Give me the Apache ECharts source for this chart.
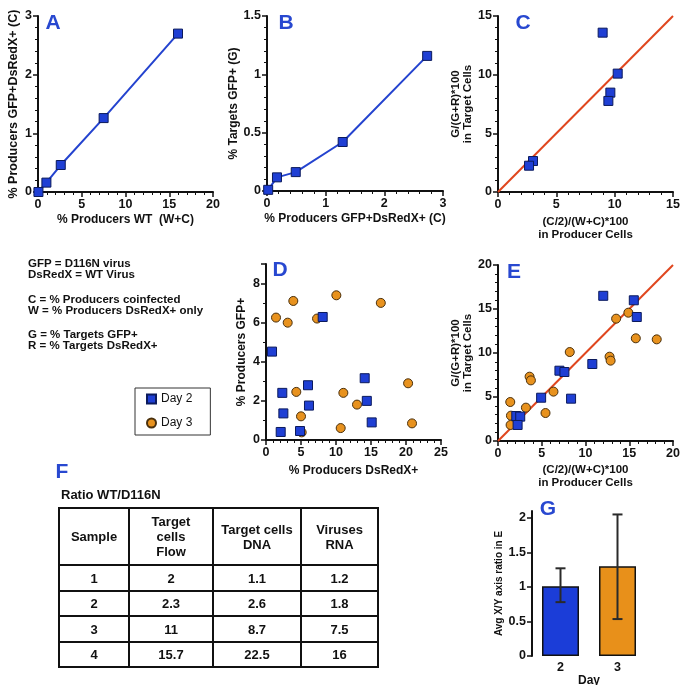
<!DOCTYPE html>
<html lang="en">
<head>
<meta charset="UTF-8">
<title>Coinfection of D116N and WT virus</title>
<style>
  html, body { margin: 0; padding: 0; background: #fff; }
  #main { width: 685px; height: 685px; }
</style>
<script src="https://cdn.jsdelivr.net/npm/echarts@6.0.0/dist/echarts.min.js"></script>
</head>
<body>
<div id="main"></div>
<script>
// ---- data ----
// A: % producers WT (W+C) vs % producers GFP+DsRedX+ (C)
var aX = [0.05, 0.96, 2.6, 7.5, 16.0];
var aY = [0.0, 0.16, 0.46, 1.26, 2.70];
// B: % producers GFP+DsRedX+ (C) vs % targets GFP+ (G)
var bX = [0.02, 0.17, 0.49, 1.29, 2.73];
var bY = [0.01, 0.117, 0.162, 0.42, 1.158];
// C: producer ratio vs target ratio
var cX = [8.97, 10.26, 9.63, 9.46, 3.0, 2.66];
var cY = [13.58, 10.09, 8.47, 7.76, 2.64, 2.24];
// D: % producers DsRedX+ vs % producers GFP+
var dDay2X = [0.86, 8.1, 2.33, 6.0, 6.14, 2.48, 2.10, 4.86, 14.1, 14.4, 15.1];
var dDay2Y = [4.52, 6.29, 2.41, 2.80, 1.76, 1.36, 0.41, 0.46, 3.16, 2.0, 0.90];
var dDay3X = [1.43, 3.1, 3.9, 7.29, 10.05, 16.4, 4.33, 5.0, 5.1, 11.05, 13.0, 10.67, 20.3, 20.86];
var dDay3Y = [6.26, 6.0, 7.11, 6.21, 7.40, 7.01, 2.46, 1.21, 0.39, 2.41, 1.81, 0.61, 2.90, 0.85];
// E: producer ratio vs target ratio, both days
var eDay2X = [12.03, 15.52, 15.86, 10.78, 7.02, 7.59, 4.93, 8.35, 2.09, 2.54, 2.24];
var eDay2Y = [16.5, 15.99, 14.09, 8.75, 7.99, 7.84, 4.92, 4.81, 2.84, 2.77, 1.82];
var eDay3X = [1.40, 1.48, 1.44, 3.19, 3.61, 3.76, 5.43, 6.34, 8.2, 12.75, 12.87, 13.5, 14.9, 15.75, 18.14];
var eDay3Y = [4.43, 2.88, 1.82, 3.79, 7.31, 6.89, 3.18, 5.61, 10.11, 9.58, 9.13, 13.9, 14.58, 11.67, 11.55];
// identity lines in C and E
var cDiag = [0, 15];
var eDiag = [0, 20];
// G: average X/Y ratio per day
var gDays = ['2', '3'];
var gMeans = [1.01, 1.30];
var gLow = [0.78, 0.535];
var gHigh = [1.27, 2.05];
// F: table
var tableHead = ['Sample', 'Target\ncells\nFlow', 'Target cells\nDNA', 'Viruses\nRNA'];
var tableRows = [
  ['1', '2', '1.1', '1.2'],
  ['2', '2.3', '2.6', '1.8'],
  ['3', '11', '8.7', '7.5'],
  ['4', '15.7', '22.5', '16']
];
var notes = [
  'GFP = D116N virus', 'DsRedX = WT Virus', '',
  'C = % Producers coinfected', 'W = % Producers DsRedX+ only', '',
  'G = % Targets GFP+', 'R = % Targets DsRedX+'
];

var FONT = '"Liberation Sans", Arial, sans-serif';
var INK = '#111';
var BLUE = '#1f3fd4';
var ORANGE = '#e8921e';
var LETTER = '#2848d0';

function zip(xs, ys) {
  return xs.map(function (x, i) { return [x, ys[i]]; });
}

function valAxis(grid, min, max, interval, minor, name, gap, nameSize, hideMax) {
  return {
    type: 'value', gridIndex: grid, min: min, max: max, interval: interval,
    name: name, nameLocation: 'middle', nameGap: gap,
    nameTextStyle: { fontFamily: FONT, fontWeight: 'bold', fontSize: nameSize, color: INK, lineHeight: nameSize + 1 },
    axisLine: { show: true, onZero: false, lineStyle: { color: INK, width: 2 } },
    axisTick: { show: true, length: 5, lineStyle: { color: INK, width: 1.5 } },
    minorTick: { show: minor > 1, splitNumber: minor, length: 3, lineStyle: { color: INK, width: 1 } },
    axisLabel: { fontFamily: FONT, fontWeight: 'bold', fontSize: 12.5, color: INK, margin: 6, showMaxLabel: !hideMax },
    splitLine: { show: false },
    minorSplitLine: { show: false }
  };
}

var squareStyle = { color: BLUE, borderColor: '#0b1a5c', borderWidth: 1, opacity: 1 };
var circleStyle = { color: ORANGE, borderColor: '#4a300c', borderWidth: 1, opacity: 1 };

function scatter(name, idx, xs, ys, isSquare) {
  return {
    name: name, type: 'scatter', xAxisIndex: idx, yAxisIndex: idx,
    symbol: isSquare ? 'rect' : 'circle', symbolSize: isSquare ? 9 : 9,
    itemStyle: isSquare ? squareStyle : circleStyle,
    data: zip(xs, ys), z: 3
  };
}

function diag(idx, ends) {
  return {
    type: 'line', xAxisIndex: idx, yAxisIndex: idx, symbol: 'none',
    lineStyle: { color: '#e0461e', width: 2 }, data: zip(ends, ends), z: 1
  };
}

function connected(idx, xs, ys) {
  return {
    type: 'line', xAxisIndex: idx, yAxisIndex: idx,
    symbol: 'rect', symbolSize: 9, showSymbol: true,
    lineStyle: { color: '#2443cf', width: 2 },
    itemStyle: squareStyle, data: zip(xs, ys), z: 3
  };
}

// ---- graphic: panel letters, notes, table ----
var graphics = [];
[['A', 53, 23], ['B', 286, 23], ['C', 523, 23], ['D', 280, 270],
 ['E', 514, 272], ['F', 62, 472], ['G', 548, 509]].forEach(function (l) {
  graphics.push({
    type: 'text', x: l[1], y: l[2],
    style: { text: l[0], font: 'bold 21px ' + FONT, fill: LETTER, align: 'center', verticalAlign: 'middle' }
  });
});

var noteY = [264, 275, 0, 300, 311, 0, 335, 346];
notes.forEach(function (t, i) {
  if (!t) return;
  graphics.push({
    type: 'text', x: 28, y: noteY[i],
    style: { text: t, font: 'bold 11.5px ' + FONT, fill: INK, align: 'left', verticalAlign: 'middle' }
  });
});

graphics.push({
  type: 'text', x: 61, y: 495,
  style: { text: 'Ratio WT/D116N', font: 'bold 13px ' + FONT, fill: INK, align: 'left', verticalAlign: 'middle' }
});

var colX = [59, 129, 213, 301, 378];
var rowY = [508, 565, 591, 616, 642, 667];
var allRows = [tableHead].concat(tableRows);
allRows.forEach(function (row, r) {
  row.forEach(function (cell, c) {
    graphics.push({
      type: 'rect',
      shape: { x: colX[c], y: rowY[r], width: colX[c + 1] - colX[c], height: rowY[r + 1] - rowY[r] },
      style: { fill: '#fff', stroke: INK, lineWidth: 2 }
    });
    graphics.push({
      type: 'text', x: (colX[c] + colX[c + 1]) / 2, y: (rowY[r] + rowY[r + 1]) / 2 + 1, z: 10,
      style: { text: cell, font: 'bold 13px ' + FONT, fill: INK, align: 'center', verticalAlign: 'middle', lineHeight: 15 }
    });
  });
});

var chart = echarts.init(document.getElementById('main'), null, { renderer: 'canvas' });

var option = {
  animation: false,
  backgroundColor: '#fff',
  textStyle: { fontFamily: FONT },
  grid: [
    { left: 38, top: 16, width: 175, height: 176, outerBoundsMode: 'none' },
    { left: 267, top: 16, width: 176, height: 175, outerBoundsMode: 'none' },
    { left: 498, top: 16, width: 175, height: 176, outerBoundsMode: 'none' },
    { left: 266, top: 264, width: 175, height: 176, outerBoundsMode: 'none' },
    { left: 498, top: 265, width: 175, height: 176, outerBoundsMode: 'none' },
    { left: 532, top: 511, width: 114, height: 145, outerBoundsMode: 'none' }
  ],
  xAxis: [
    valAxis(0, 0, 20, 5, 5, '% Producers WT  (W+C)', 21, 12),
    valAxis(1, 0, 3, 1, 5, '% Producers GFP+DsRedX+ (C)', 21, 12),
    valAxis(2, 0, 15, 5, 5, '(C/2)/(W+C)*100\nin Producer Cells', 24, 11.5),
    valAxis(3, 0, 25, 5, 5, '% Producers DsRedX+', 24, 12),
    valAxis(4, 0, 20, 5, 5, '(C/2)/(W+C)*100\nin Producer Cells', 23, 11.5),
    {
      type: 'category', gridIndex: 5, data: gDays,
      name: 'Day', nameLocation: 'middle', nameGap: 15,
      nameTextStyle: { fontFamily: FONT, fontWeight: 'bold', fontSize: 12, color: INK },
      axisLine: { show: false }, axisTick: { show: false },
      axisLabel: { fontFamily: FONT, fontWeight: 'bold', fontSize: 12.5, color: INK, margin: 5 }
    }
  ],
  yAxis: [
    valAxis(0, 0, 3, 1, 5, '% Producers GFP+DsRedX+ (C)', 18, 12.5),
    valAxis(1, 0, 1.5, 0.5, 5, '% Targets GFP+ (G)', 25, 12),
    valAxis(2, 0, 15, 5, 5, 'G/(G+R)*100\nin Target Cells', 22, 11.5),
    valAxis(3, 0, 9, 2, 2, '% Producers GFP+', 18, 12, true),
    valAxis(4, 0, 20, 5, 5, 'G/(G+R)*100\nin Target Cells', 22, 11.5),
    valAxis(5, 0, 2.1, 0.5, 1, 'Avg X/Y axis ratio in E', 25, 10, true)
  ],
  legend: {
    data: ['Day 2', 'Day 3'],
    left: 135, top: 388, orient: 'vertical',
    itemWidth: 9, itemHeight: 9, itemGap: 12,
    padding: [5, 18, 6, 11],
    borderColor: '#333', borderWidth: 1,
    textStyle: { fontFamily: FONT, fontSize: 12, color: INK }
  },
  graphic: graphics,
  series: [
    connected(0, aX, aY),
    connected(1, bX, bY),
    diag(2, cDiag),
    scatter('C', 2, cX, cY, true),
    scatter('Day 3', 3, dDay3X, dDay3Y, false),
    scatter('Day 2', 3, dDay2X, dDay2Y, true),
    diag(4, eDiag),
    scatter('Day 3', 4, eDay3X, eDay3Y, false),
    scatter('Day 2', 4, eDay2X, eDay2Y, true),
    {
      type: 'bar', xAxisIndex: 5, yAxisIndex: 5, barWidth: 37,
      itemStyle: { borderColor: INK, borderWidth: 1.5 },
      data: gMeans.map(function (v, i) {
        return { value: v, itemStyle: { color: i === 0 ? '#1b3dd8' : '#e8901a' } };
      })
    },
    {
      type: 'custom', xAxisIndex: 5, yAxisIndex: 5, z: 5,
      encode: { x: 0, y: [1, 2] },
      data: gDays.map(function (d, i) { return [i, gLow[i], gHigh[i]]; }),
      renderItem: function (params, api) {
        var lo = api.coord([api.value(0), api.value(1)]);
        var hi = api.coord([api.value(0), api.value(2)]);
        var half = 5;
        var st = { stroke: '#2a2a2a', lineWidth: 2 };
        return {
          type: 'group',
          children: [
            { type: 'line', shape: { x1: lo[0], y1: lo[1], x2: hi[0], y2: hi[1] }, style: st },
            { type: 'line', shape: { x1: hi[0] - half, y1: hi[1], x2: hi[0] + half, y2: hi[1] }, style: st },
            { type: 'line', shape: { x1: lo[0] - half, y1: lo[1], x2: lo[0] + half, y2: lo[1] }, style: st }
          ]
        };
      }
    }
  ]
};

chart.setOption(option);
</script>
</body>
</html>
